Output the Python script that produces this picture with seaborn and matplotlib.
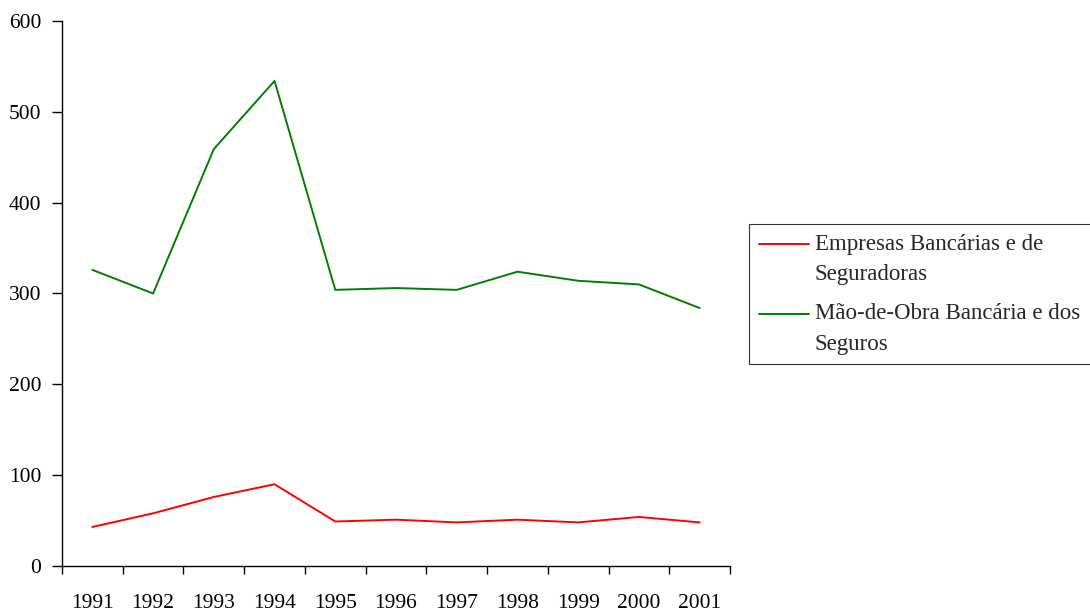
import matplotlib
matplotlib.use("Agg")
import matplotlib.pyplot as plt
from matplotlib.legend_handler import HandlerLine2D
import pandas as pd
import numpy as np
import seaborn as sns

years = ["1991", "1992", "1993", "1994", "1995", "1996", "1997", "1998", "1999", "2000", "2001"]
empresas = [43, 58, 76, 90, 49, 51, 48, 51, 48, 54, 48]
mao_de_obra = [326, 300, 459, 534, 304, 306, 304, 324, 314, 310, 284]

lab_emp = "Empresas Bancárias e de\nSeguradoras"
lab_mao = "Mão-de-Obra Bancária e dos\nSeguros"

df = pd.DataFrame({
    "ano": years * 2,
    "valor": empresas + mao_de_obra,
    "serie": [lab_emp] * len(years) + [lab_mao] * len(years),
})


# legend line next to the first text line, like the original
class TopLineHandler(HandlerLine2D):
    def __init__(self, shift=10.0, **kw):
        super().__init__(**kw)
        self.shift = shift

    def create_artists(self, legend, orig_handle, xdescent, ydescent, width, height, fontsize, trans):
        arts = super().create_artists(legend, orig_handle, xdescent, ydescent, width, height, fontsize, trans)
        for a in arts:
            a.set_ydata(np.asarray(a.get_ydata()) + self.shift)
        return arts


sns.set_style("white")
plt.rcParams["font.family"] = ["Liberation Serif", "DejaVu Serif"]

fig = plt.figure(figsize=(10.9, 6.11), dpi=100)
ax = fig.add_axes([62 / 1090, 1 - 566 / 611, (730 - 62) / 1090, (566 - 21) / 611])

sns.lineplot(data=df, x="ano", y="valor", hue="serie",
             palette={lab_emp: "#ff0000", lab_mao: "#008000"},
             linewidth=1.4, ax=ax, legend=True)

ax.set_xlim(-0.5, len(years) - 0.5)
ax.set_ylim(0, 600)
ax.set_yticks(range(0, 601, 100))
ax.set_xticks(range(len(years)))
ax.set_xticklabels(years)
ax.set_xticks(np.arange(-0.5, len(years), 1.0), minor=True)
ax.set_xlabel("")
ax.set_ylabel("")

for s in ["top", "right"]:
    ax.spines[s].set_visible(False)
for s in ["left", "bottom"]:
    ax.spines[s].set_color("black")
    ax.spines[s].set_linewidth(1.0)

ax.tick_params(axis="x", which="major", length=0, pad=20, labelsize=15.5, colors="black")
ax.tick_params(axis="x", which="minor", direction="out", length=6, width=1, color="black", bottom=True)
ax.tick_params(axis="y", direction="out", length=7, width=1, pad=8, labelsize=15.5,
               colors="black", left=True)

handles, labels = ax.get_legend_handles_labels()
leg = ax.legend(handles, labels, loc="upper left", mode="expand",
                bbox_to_anchor=(749 / 1090, 1 - 360 / 611, 345 / 1090, 136 / 611),
                bbox_transform=fig.transFigure,
                frameon=True, fancybox=False, edgecolor="black", fontsize=16.5,
                handlelength=2.2, handletextpad=0.25, borderpad=0.42, labelspacing=0.78,
                borderaxespad=0,
                handler_map={h: TopLineHandler(shift=11) for h in handles})
leg.get_frame().set_linewidth(0.8)
for t in leg.get_texts():
    t.set_linespacing(1.6)

fig.savefig("out.png", dpi=100, facecolor="white")
